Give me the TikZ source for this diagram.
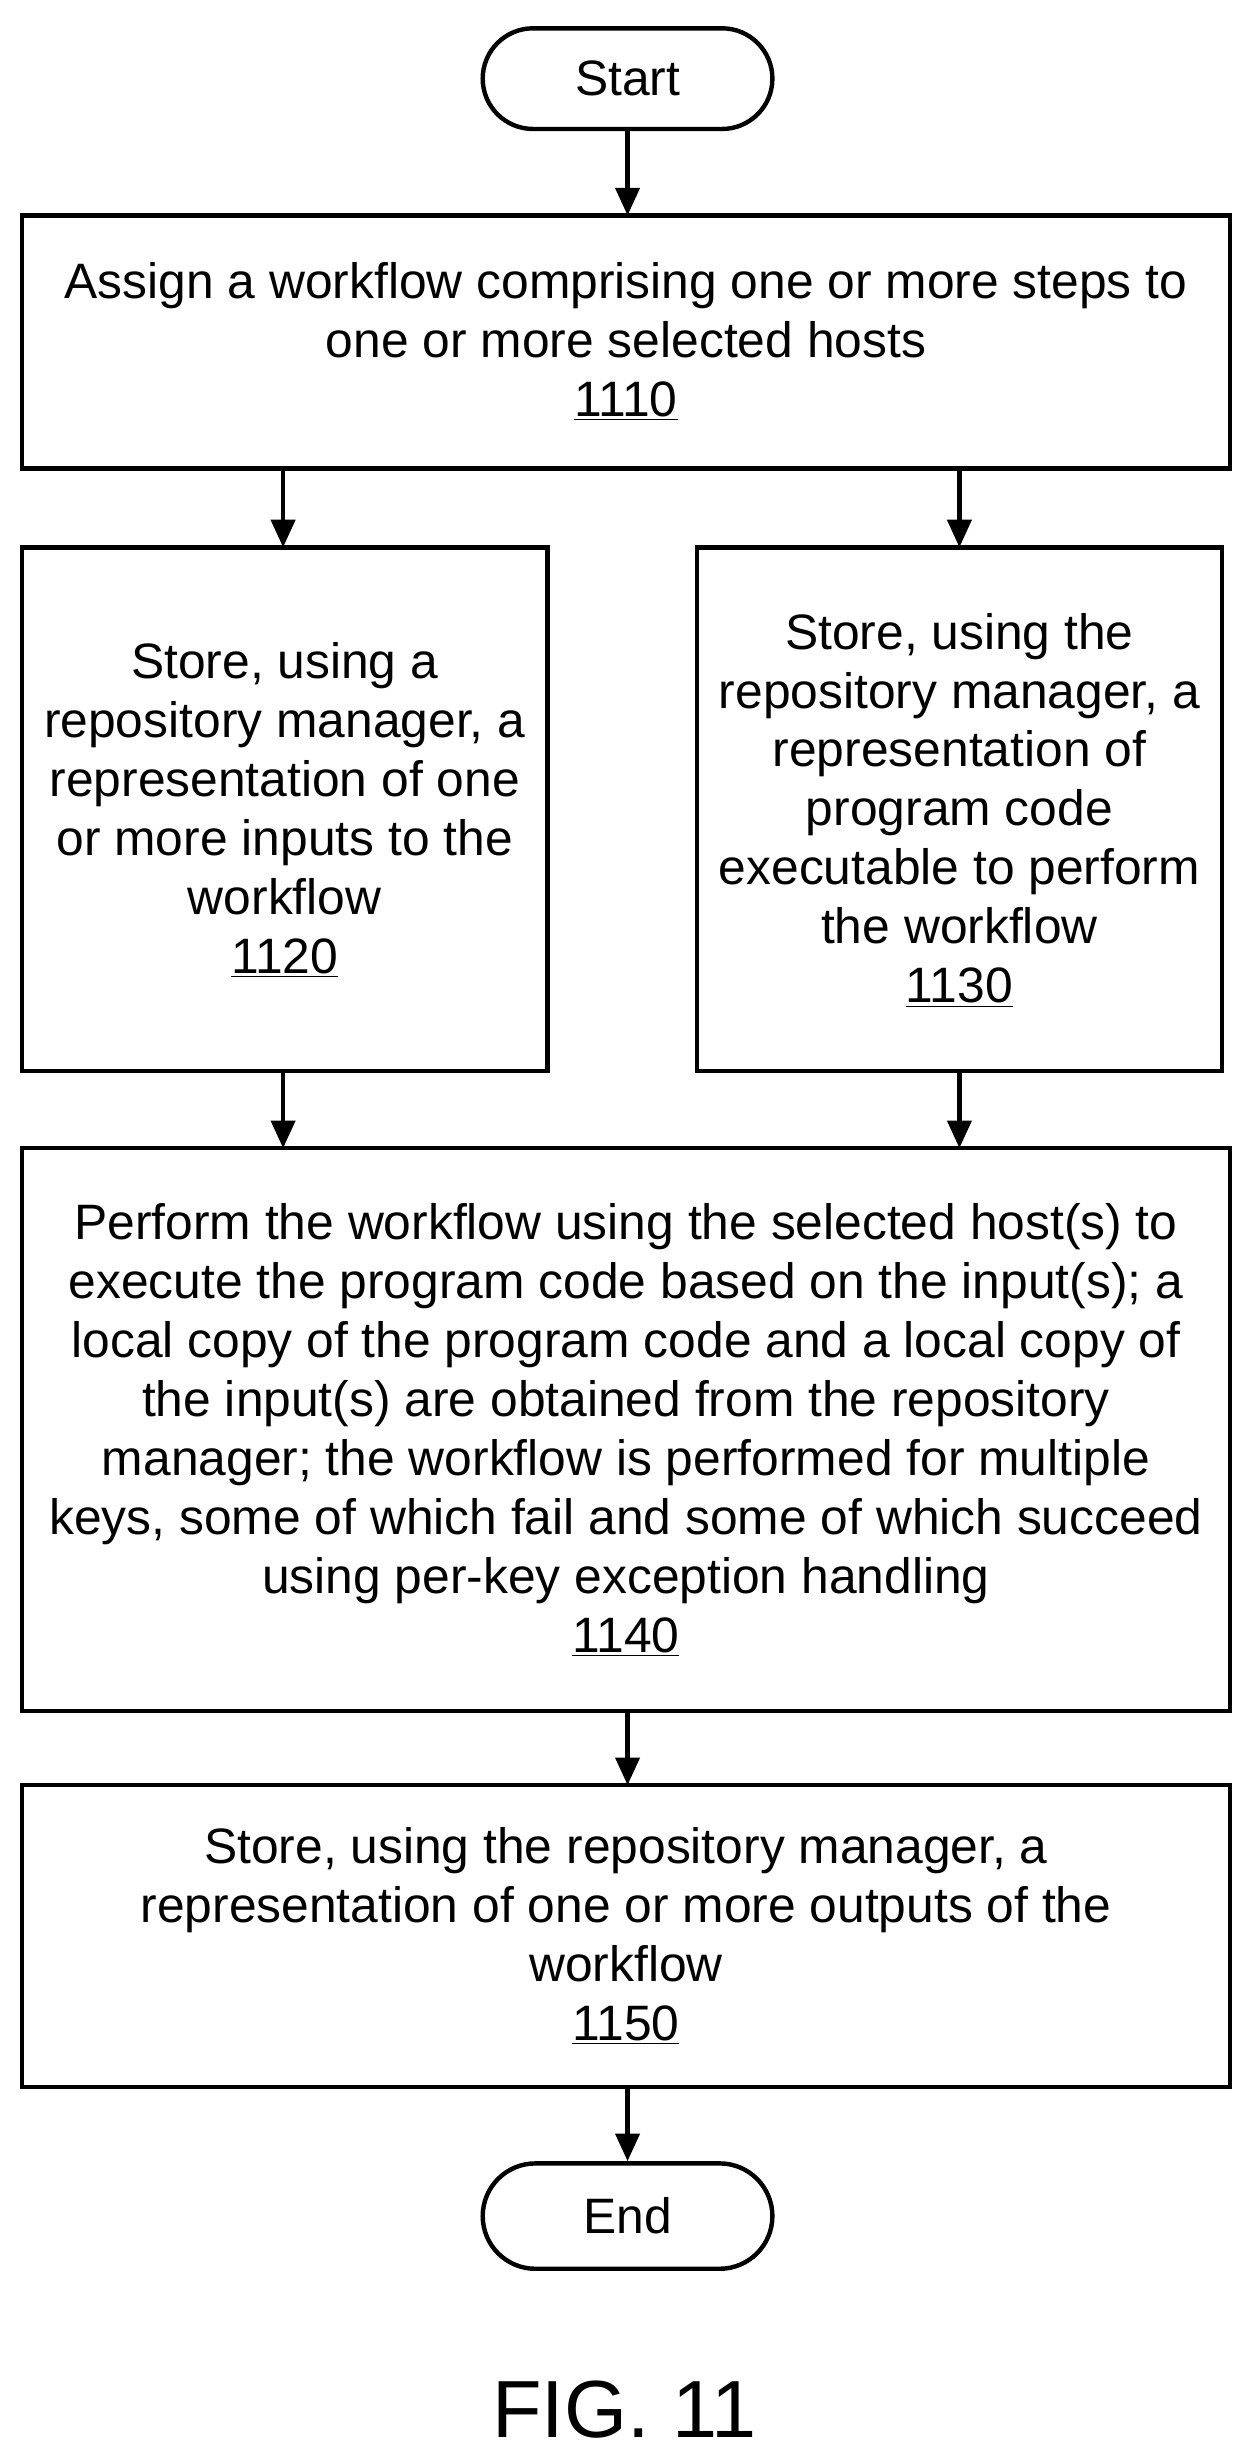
\documentclass[tikz,border=0pt]{standalone}
\usepackage{fontspec}
\setmainfont{Liberation Sans}
\usetikzlibrary{arrows.meta,shapes.misc}
\begin{document}
\begin{tikzpicture}[x=0.03cm,y=-0.03cm,
  box/.style={draw,line width=2.4pt,inner sep=0pt},
  txt/.style={align=center,font=\fontsize{27}{32}\selectfont},
  term/.style={draw,line width=2.4pt,rounded rectangle,minimum width=192*0.03cm,minimum height=64*0.03cm,font=\fontsize{27}{30}\selectfont},
  arr/.style={line width=2.4pt,-{Triangle[length=15pt,width=13pt]}}]
\useasboundingbox (0,0) rectangle (794,1566);
\node[term] (start) at (399,50) {Start};
\draw[box] (14,137) rectangle (782,298);
\node[txt] (t1) at (398,217) {Assign a workflow comprising one or more steps to\\one or more selected hosts\\\underline{1110}};
\draw[box] (14,348) rectangle (348,681);
\node[txt] (t2) at (181,515) {Store, using a\\repository manager, a\\representation of one\\or more inputs to the\\workflow\\\underline{1120}};
\draw[box] (443,348) rectangle (777,681);
\node[txt] (t3) at (610,515) {Store, using the\\repository manager, a\\representation of\\program code\\executable to perform\\the workflow\\\underline{1130}};
\draw[box] (14,730) rectangle (782,1088);
\node[txt] (t4) at (398,909) {Perform the workflow using the selected host(s) to\\execute the program code based on the input(s); a\\local copy of the program code and a local copy of\\the input(s) are obtained from the repository\\manager; the workflow is performed for multiple\\keys, some of which fail and some of which succeed\\using per-key exception handling\\\underline{1140}};
\draw[box] (14,1135) rectangle (782,1327);
\node[txt] (t5) at (398,1231) {Store, using the repository manager, a\\representation of one or more outputs of the\\workflow\\\underline{1150}};
\node[term,minimum height=67*0.03cm] (end) at (399,1409) {End};
\node[font=\fontsize{44}{50}\selectfont] (fig) at (397,1532) {FIG. 11};
\coordinate (a1) at (399,137);
\draw[arr] (start.south) -- (a1);
\coordinate (c1) at (180,298); \coordinate (c2) at (180,348);
\coordinate (c3) at (610,298); \coordinate (c4) at (610,348);
\draw[arr] (c1) -- (c2); \draw[arr] (c3) -- (c4);
\coordinate (d1) at (180,681); \coordinate (d2) at (180,730);
\coordinate (d3) at (610,681); \coordinate (d4) at (610,730);
\draw[arr] (d1) -- (d2); \draw[arr] (d3) -- (d4);
\coordinate (e1) at (399,1088); \coordinate (e2) at (399,1135);
\draw[arr] (e1) -- (e2);
\coordinate (f1) at (399,1327);
\draw[arr] (f1) -- (end.north);
\end{tikzpicture}
\end{document}
